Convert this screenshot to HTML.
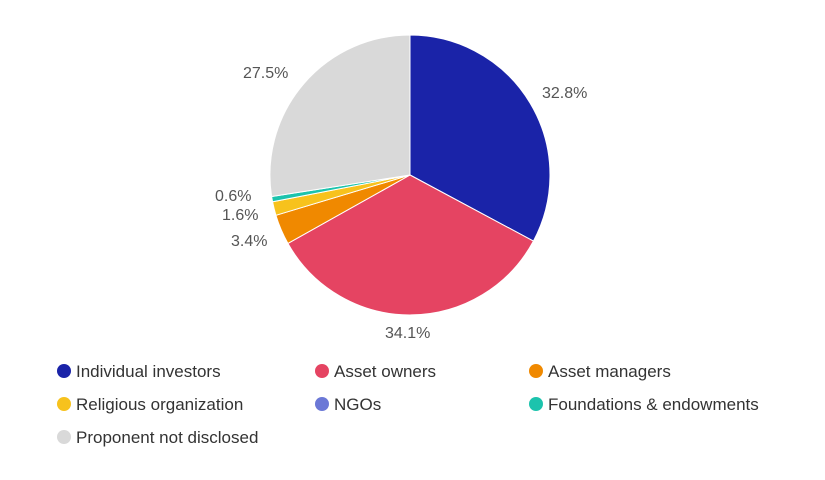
<!DOCTYPE html>
<html><head><meta charset="utf-8"><style>
html,body{margin:0;padding:0;background:#fff;width:825px;height:480px;overflow:hidden}
svg{display:block;font-family:"Liberation Sans",Roboto,sans-serif}
</style></head><body>
<svg width="825" height="480" viewBox="0 0 825 480">
<g stroke="#fff" stroke-width="1">
<path d="M410,175 L410,35 A140,140 0 0 1 533.4,241.1 Z" fill="#1a23a8"/>
<path d="M410,175 L533.4,241.1 A140,140 0 0 1 287.9,243.4 Z" fill="#e54462"/>
<path d="M410,175 L287.9,243.4 A140,140 0 0 1 275.9,215.3 Z" fill="#f08900"/>
<path d="M410,175 L275.9,215.3 A140,140 0 0 1 272.6,201.8 Z" fill="#f7c21d"/>
<path d="M410,175 L272.6,201.8 A140,140 0 0 1 271.6,196.5 Z" fill="#1cc3ad"/>
<path d="M410,175 L271.6,196.5 A140,140 0 0 1 410,35 Z" fill="#d9d9d9"/>
</g>
<g fill="#555" font-size="16">
<text x="542" y="98">32.8%</text>
<text x="385" y="338">34.1%</text>
<text x="231" y="246">3.4%</text>
<text x="222" y="220">1.6%</text>
<text x="215" y="201">0.6%</text>
<text x="243" y="78">27.5%</text>
</g>
<g font-size="17" fill="#333">
<circle cx="64" cy="371" r="7" fill="#1a23a8"/><text x="76" y="377">Individual investors</text>
<circle cx="322" cy="371" r="7" fill="#e54462"/><text x="334" y="377">Asset owners</text>
<circle cx="536" cy="371" r="7" fill="#f08900"/><text x="548" y="377">Asset managers</text>
<circle cx="64" cy="404" r="7" fill="#f7c21d"/><text x="76" y="410">Religious organization</text>
<circle cx="322" cy="404" r="7" fill="#6b78d6"/><text x="334" y="410">NGOs</text>
<circle cx="536" cy="404" r="7" fill="#1cc3ad"/><text x="548" y="410">Foundations &amp; endowments</text>
<circle cx="64" cy="437" r="7" fill="#d9d9d9"/><text x="76" y="443">Proponent not disclosed</text>
</g>
</svg>
</body></html>
